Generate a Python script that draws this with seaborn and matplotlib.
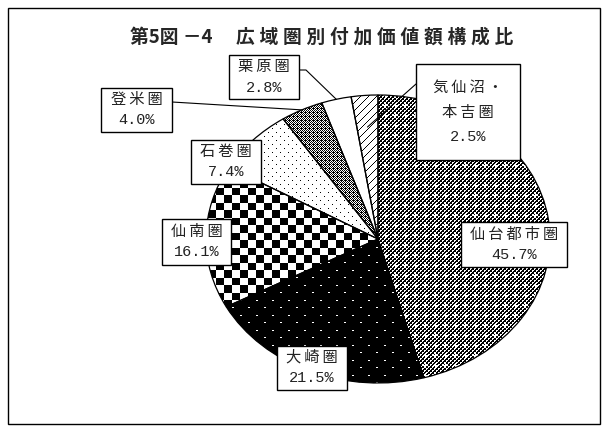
import numpy as np
import matplotlib
matplotlib.use('Agg')
import matplotlib.pyplot as plt
from matplotlib.patches import Rectangle
from matplotlib.lines import Line2D
import seaborn as sns

# データ
regions = ['仙台都市圏', '大崎圏', '仙南圏', '石巻圏', '登米圏', '栗原圏', '気仙沼・本吉圏']
name_lines = [['仙台都市圏'], ['大崎圏'], ['仙南圏'], ['石巻圏'], ['登米圏'], ['栗原圏'], ['気仙沼・', '本吉圏']]
shares = [45.7, 21.5, 16.1, 7.4, 4.0, 2.8, 2.5]
title_head = '第5図 －4\u3000\u2005'
title_body = '広域圏別付加価値額構成比'

W, H = 607, 428


def fx(x):
    return x / W


def fy(y):
    return 1 - y / H


def make_pattern(kind):
    yy, xx = np.mgrid[0:H, 0:W]
    if kind == 'sendai':
        black = ((xx // 2 + yy // 2) % 2 == 0)
        px, py = (xx % 10) - 5, (yy % 10) - 5
        plus = ((abs(px) <= 0) & (abs(py) <= 2)) | ((abs(py) <= 0) & (abs(px) <= 2))
        black = (black | ((xx + yy) % 4 == 0)) & ~plus
    elif kind == 'osaki':
        ty = yy % 15
        tx = xx % 16
        dots = ((ty == 0) & (tx < 2)) | ((ty == 7) & (tx >= 8) & (tx < 10))
        black = ~dots
    elif kind == 'sennan':
        ty = yy % 15
        black = ((xx // 8) % 2 == 0) == (ty < 8)
    elif kind == 'ishinomaki':
        tx = xx % 8
        ty = yy % 8
        black = ((ty == 0) & (tx == 0)) | ((ty == 4) & (tx == 4))
    elif kind == 'tome':
        black = ((xx + yy) % 2 == 0) | ((xx % 4 == 1) & (yy % 4 == 0))
    elif kind == 'kesennuma':
        black = ((xx + yy) % 8 == 0)
    else:
        black = np.zeros((H, W), dtype=bool)
    img = np.ones((H, W, 4))
    img[..., :3] = np.where(black[..., None], 0.0, 1.0)
    return img


patterns = ['sendai', 'osaki', 'sennan', 'ishinomaki', 'tome', 'blank', 'kesennuma']

# ラベル枠 (left, top, width, height) ピクセル
boxes = [(461, 222, 106, 45), (277, 346, 70, 44), (162, 219, 69, 46),
         (191, 140, 70, 44), (101, 88, 71, 44), (229, 55, 70, 44), (416, 64, 104, 96)]

sns.set_theme(style='white')
plt.rcParams['font.family'] = ['Noto Sans CJK JP', 'DejaVu Sans']

fig = plt.figure(figsize=(W / 100, H / 100), dpi=100)
fig.patch.set_facecolor('white')

# 楕円の円グラフ
ax = fig.add_axes([fx(206), fy(383), 344 / W, 288 / H])
wedges, _ = ax.pie(shares, startangle=90, counterclock=False, radius=1,
                   wedgeprops=dict(facecolor='none', edgecolor='black', linewidth=0.9))
ax.set_aspect('auto')
ax.set_xlim(-1, 1)
ax.set_ylim(-1, 1)
ax.patch.set_visible(False)
ax.set_zorder(2)

for w, kind in zip(wedges, patterns):
    im = fig.figimage(make_pattern(kind), xo=0, yo=0, origin='upper', zorder=1)
    im.set_clip_path(w)


def wedge_point(w, r=1.0):
    mid = np.deg2rad((w.theta1 + w.theta2) / 2)
    disp = ax.transData.transform((r * np.cos(mid), r * np.sin(mid)))
    return fig.transFigure.inverted().transform(disp)


# 外枠
fig.add_artist(Rectangle((fx(8), fy(424)), (600 - 8) / W, (424 - 8) / H,
                         transform=fig.transFigure, facecolor='none',
                         edgecolor='black', linewidth=1.0, zorder=0))

# タイトル
fig.text(fx(130), fy(37), title_head + '\u2005'.join(title_body), ha='left', va='center',
         fontsize=13.5, fontweight='bold', family=['Noto Sans CJK JP', 'DejaVu Sans'])

# 引出線
p = wedge_point(wedges[5])
fig.add_artist(Line2D([fx(299), fx(306), p[0]], [fy(70), fy(70), p[1]],
                      transform=fig.transFigure, color='black', lw=0.8, zorder=4))
p = wedge_point(wedges[4])
fig.add_artist(Line2D([fx(172), p[0]], [fy(102), p[1]],
                      transform=fig.transFigure, color='black', lw=0.8, zorder=4))
p = wedge_point(wedges[6], 0.78)
fig.add_artist(Line2D([fx(416), p[0]], [fy(84), p[1]],
                      transform=fig.transFigure, color='black', lw=0.8, zorder=4))

# ラベル
for lines, v, (l, t, bw, bh) in zip(name_lines, shares, boxes):
    fig.add_artist(Rectangle((fx(l), fy(t + bh)), bw / W, bh / H,
                             transform=fig.transFigure, facecolor='white',
                             edgecolor='black', linewidth=1.0, zorder=5))
    cx = l + bw / 2
    n = len(lines) + 1
    step = 21 if n == 2 else 25
    y0 = t + bh / 2 - step * (n - 1) / 2
    for i, s in enumerate(lines):
        fig.text(fx(cx), fy(y0 + i * step), '\u2009'.join(s), ha='center', va='center',
                 fontsize=11, color='#222222',
                 family=['Noto Sans CJK JP', 'DejaVu Sans'], zorder=6)
    fig.text(fx(cx), fy(y0 + (n - 1) * step), f'{v:.1f}%', ha='center', va='center',
             fontsize=11, color='#222222', family=['Liberation Mono'], zorder=6)

fig.savefig('out.png', dpi=100)
